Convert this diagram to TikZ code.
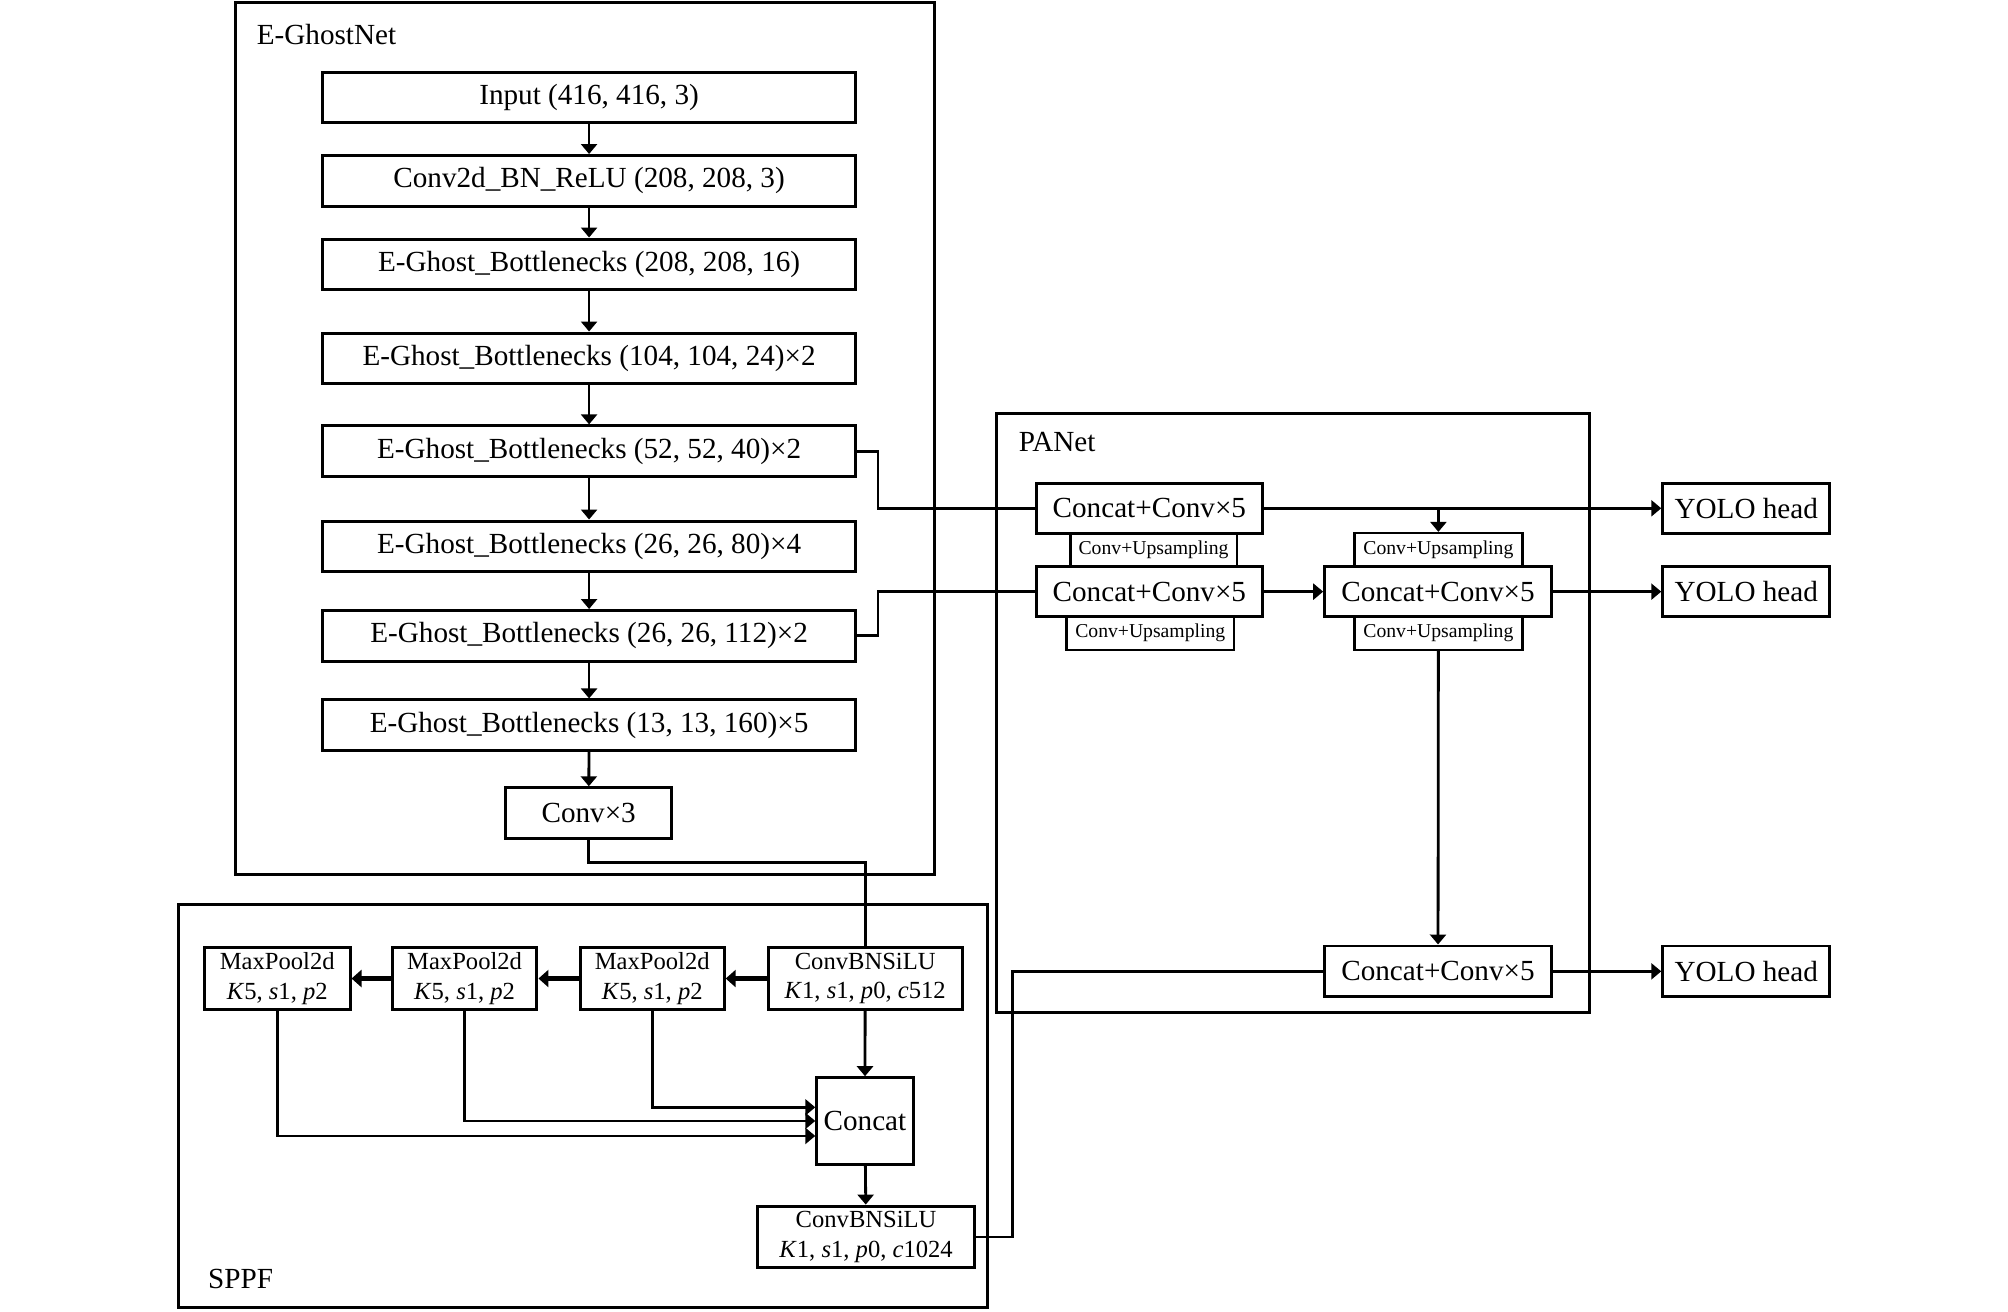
\documentclass[tikz,border=0pt]{standalone}
\usepackage{fontspec}
\setmainfont{Liberation Serif}
\usetikzlibrary{arrows.meta}
\newcommand\fmain{\fontsize{8.3}{10}\selectfont}
\newcommand\fsmall{\fontsize{7}{8.5}\selectfont}
\newcommand\ftiny{\fontsize{5.6}{6.5}\selectfont}
\tikzset{
  blk/.style={draw, line width=0.85pt, inner sep=0pt, align=center, font=\fmain},
  wh/.style 2 args={minimum width=#1*0.12806mm, minimum height=#2*0.12806mm},
  pool/.style={blk, font=\fsmall},
  upbox/.style={draw, line width=0.7pt, inner sep=0pt, font=\ftiny},
  grp/.style={draw, line width=0.85pt},
  ln/.style={line width=0.8pt},
  arr/.style={ln, -{Triangle[length=1.0mm,width=1.6mm]}},
  thickarr/.style={line width=1.4pt, -{Triangle[length=1.0mm,width=1.7mm]}},
}

\begin{document}
\begin{tikzpicture}[x=0.12806mm, y=-0.12806mm]
\useasboundingbox (0,0) rectangle (1568,1024);

% group frames
\draw[grp] (184,2) rectangle (730,683);
\draw[grp] (139,706) rectangle (771,1021);
\draw[grp] (778,323) rectangle (1241,791);
\node[anchor=base west, inner sep=0pt, font=\fmain] (lghost) at (200,35) {E-GhostNet};
\node[anchor=base west, inner sep=0pt, font=\fmain] (lpan) at (795,352.5) {PANet};
\node[anchor=base west, inner sep=0pt, font=\fmain] (lsppf) at (162,1006) {SPPF};

% backbone
\node[blk, wh={416}{39.5}] (input) at (460,76) {Input (416, 416, 3)};
\node[blk, wh={416}{39.5}] (conv2d) at (460,141.2) {Conv2d\_BN\_ReLU (208, 208, 3)};
\node[blk, wh={416}{39.5}] (eg1) at (460,206.4) {E-Ghost\_Bottlenecks (208, 208, 16)};
\node[blk, wh={416}{39.5}] (eg2) at (460,279.8) {E-Ghost\_Bottlenecks (104, 104, 24)×2};
\node[blk, wh={416}{39.5}] (eg3) at (460,352.3) {E-Ghost\_Bottlenecks (52, 52, 40)×2};
\node[blk, wh={416}{39.5}] (eg4) at (460,426.6) {E-Ghost\_Bottlenecks (26, 26, 80)×4};
\node[blk, wh={416}{39.5}] (eg5) at (460,496.5) {E-Ghost\_Bottlenecks (26, 26, 112)×2};
\node[blk, wh={416}{39.5}] (eg6) at (460,566.3) {E-Ghost\_Bottlenecks (13, 13, 160)×5};
\node[blk, wh={130}{39.5}] (convx3) at (459.7,634.9) {Conv×3};

\foreach \a/\b in {input/conv2d, conv2d/eg1, eg1/eg2, eg2/eg3, eg3/eg4, eg4/eg5, eg5/eg6, eg6/convx3}
  \draw[arr] (\a) -- (\b);

% SPPF
\node[pool, wh={113.7}{48.2}] (mp1) at (216.5,764.1) {MaxPool2d\\\textit{K}5, \textit{s}1, \textit{p}2};
\node[pool, wh={113}{48.2}] (mp2) at (362.8,764.1) {MaxPool2d\\\textit{K}5, \textit{s}1, \textit{p}2};
\node[pool, wh={112.4}{48.2}] (mp3) at (509.3,764.1) {MaxPool2d\\\textit{K}5, \textit{s}1, \textit{p}2};
\node[pool, wh={151.7}{48.2}] (cbs1) at (675.6,764.1) {ConvBNSiLU\\\textit{K}1, \textit{s}1, \textit{p}0, \textit{c}512};
\node[blk, wh={75.2}{67.5}] (concat) at (675.4,875.3) {Concat};
\node[pool, wh={169.5}{48.2}] (cbs2) at (676.3,965.9) {ConvBNSiLU\\\textit{K}1, \textit{s}1, \textit{p}0, \textit{c}1024};

\draw[thickarr] (cbs1) -- (mp3);
\draw[thickarr] (mp3) -- (mp2);
\draw[thickarr] (mp2) -- (mp1);
\draw[arr] (cbs1) -- (concat);
\draw[arr] (mp3.south) |- ([yshift=1.36mm]concat.west);
\draw[arr] (mp2.south) |- (concat.west);
\draw[arr] (mp1.south) |- ([yshift=-1.5mm]concat.west);
\draw[arr] (concat) -- (cbs2);
\draw[ln] (convx3.south) -- ++(0,17.5) -| (cbs1.north);

% PANet
\node[upbox, wh={130}{26}] (up1) at (900.8,429.3) {Conv+Upsampling};
\node[upbox, wh={131}{26}] (up2) at (898.2,494.5) {Conv+Upsampling};
\node[upbox, wh={131}{26}] (up3) at (1123.2,429.3) {Conv+Upsampling};
\node[upbox, wh={131}{26}] (up4) at (1123.2,494.5) {Conv+Upsampling};
\node[blk, wh={177}{39}] (cc1) at (897.5,396.9) {Concat+Conv×5};
\node[blk, wh={177}{39}] (cc2) at (897.5,462) {Concat+Conv×5};
\node[blk, wh={177}{39}] (cc3) at (1122.9,462) {Concat+Conv×5};
\node[blk, wh={177}{39.6}] (cc4) at (1122.9,758.5) {Concat+Conv×5};
\node[blk, wh={130.4}{39}] (yolo1) at (1363.6,396.9) {YOLO head};
\node[blk, wh={130.4}{39}] (yolo2) at (1363.6,462) {YOLO head};
\node[blk, wh={130.4}{39.6}] (yolo3) at (1363.6,758.5) {YOLO head};

\draw[ln] (eg3.east) -- ++(16.5,0) |- (cc1.west);
\draw[ln] (eg5.east) -- ++(16.5,0) |- (cc2.west);
\draw[ln] (cbs2.east) -- ++(28.7,0) |- (cc4.west);
\draw[arr] (cc1) -- (yolo1);
\draw[arr] (cc1.east -| up3.north) -- (up3.north);
\draw[arr] (cc2) -- (cc3);
\draw[arr] (cc3) -- (yolo2);
\draw[arr] (up4) -- (cc4);
\draw[arr] (cc4) -- (yolo3);
\end{tikzpicture}
\end{document}
